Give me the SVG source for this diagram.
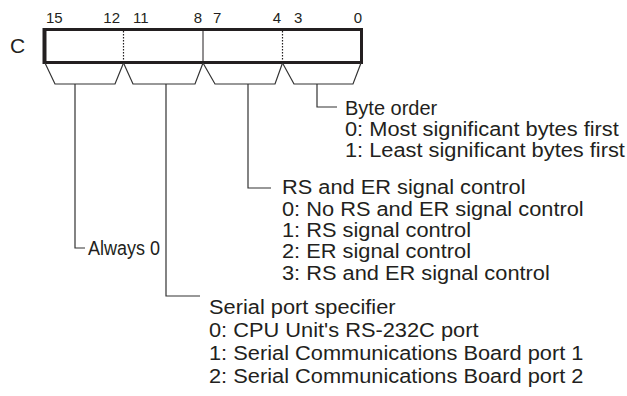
<svg xmlns="http://www.w3.org/2000/svg" width="627" height="396" viewBox="0 0 627 396">
<style>
text{font-family:"Liberation Sans",Arial,sans-serif;fill:#231f20}
.bit{font-size:15px}
.t{font-size:20px}
.ln{fill:none;stroke:#333;stroke-width:1.2}
.div{stroke:#231f20;stroke-width:1}
.dot{stroke:#231f20;stroke-width:1.2;stroke-dasharray:1.5 1.5}
</style>
<rect width="627" height="396" fill="#fff"/>
<g id="register">
<text x="10" y="53" style="font-size:21px">C</text>
<text class="bit" x="46" y="23">15</text>
<text class="bit" x="120" y="23" text-anchor="end">12</text>
<text class="bit" x="133" y="23">11</text>
<text class="bit" x="202" y="23" text-anchor="end">8</text>
<text class="bit" x="213" y="23">7</text>
<text class="bit" x="281" y="23" text-anchor="end">4</text>
<text class="bit" x="294" y="23">3</text>
<text class="bit" x="362" y="23" text-anchor="end">0</text>
<rect x="44.5" y="29.5" width="317" height="33" fill="none" stroke="#231f20" stroke-width="3"/>
<line x1="44.5" y1="28" x2="44.5" y2="64" stroke="#231f20" stroke-width="4"/>
<line class="dot" x1="123.5" y1="31" x2="123.5" y2="61"/>
<line class="div" x1="203" y1="31" x2="203" y2="61"/>
<line class="dot" x1="282.5" y1="31" x2="282.5" y2="61"/>
</g>
<g id="brackets">
<polyline class="ln" points="45,63 55,84 115,84 123.5,63"/>
<polyline class="ln" points="123.5,63 133,84 195,84 203,63"/>
<polyline class="ln" points="203,63 215,84 275,84 282.5,63"/>
<polyline class="ln" points="282.5,63 294,84 353,84 361,63"/>
</g>
<g id="connectors">
<polyline class="ln" points="75,84 75,248 85,248"/>
<polyline class="ln" points="166,84 166,296 200,296"/>
<polyline class="ln" points="248,84 248,188 271,188"/>
<polyline class="ln" points="317,84 317,107 337,107"/>
</g>
<g id="byte-order">
<text class="t" x="345" y="115">Byte order</text>
<text class="t" x="345" y="136" textLength="273.8" lengthAdjust="spacingAndGlyphs">0: Most significant bytes first</text>
<text class="t" x="345" y="157" textLength="279.9" lengthAdjust="spacingAndGlyphs">1: Least significant bytes first</text>
</g>
<g id="rs-er">
<text class="t" x="282" y="194" textLength="243.5" lengthAdjust="spacingAndGlyphs">RS and ER signal control</text>
<text class="t" x="282" y="216" textLength="301.7" lengthAdjust="spacingAndGlyphs">0: No RS and ER signal control</text>
<text class="t" x="282" y="237" textLength="189" lengthAdjust="spacingAndGlyphs">1: RS signal control</text>
<text class="t" x="282" y="258" textLength="189" lengthAdjust="spacingAndGlyphs">2: ER signal control</text>
<text class="t" x="282" y="280" textLength="267.8" lengthAdjust="spacingAndGlyphs">3: RS and ER signal control</text>
</g>
<g id="always">
<text class="t" x="88" y="255" textLength="72" lengthAdjust="spacingAndGlyphs">Always 0</text>
</g>
<g id="serial">
<text class="t" x="209" y="314" textLength="186.6" lengthAdjust="spacingAndGlyphs">Serial port specifier</text>
<text class="t" x="209" y="337" textLength="269.5" lengthAdjust="spacingAndGlyphs">0: CPU Unit's RS-232C port</text>
<text class="t" x="209" y="360" textLength="374.4" lengthAdjust="spacingAndGlyphs">1: Serial Communications Board port 1</text>
<text class="t" x="209" y="383" textLength="374.4" lengthAdjust="spacingAndGlyphs">2: Serial Communications Board port 2</text>
</g>
</svg>
